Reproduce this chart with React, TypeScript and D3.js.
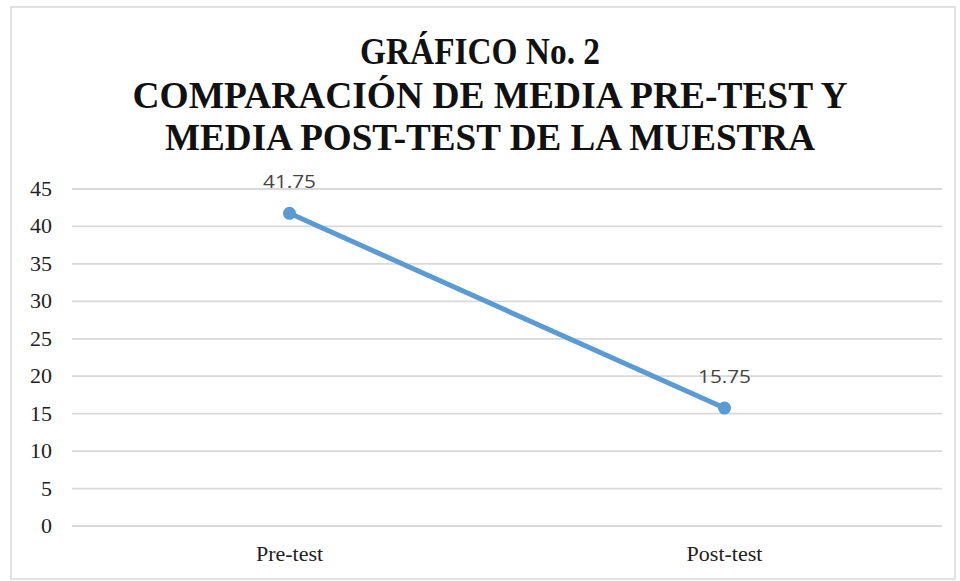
import React from "react";
import * as d3 from "d3";

const categories = ["Pre-test", "Post-test"];
const values = [41.75, 15.75];
const valueLabels = ["41.75", "15.75"];
const yTicks = [0, 5, 10, 15, 20, 25, 30, 35, 40, 45];
const titleLines = ["GRÁFICO No. 2", "COMPARACIÓN DE MEDIA PRE-TEST Y", "MEDIA POST-TEST DE LA MUESTRA"];

const W = 960;
const H = 581;
const plot = { left: 72, right: 942, top: 189, bottom: 526 };

export default function App() {
  const x = d3.scaleBand<string>().domain(categories).range([plot.left, plot.right]);
  const y = d3.scaleLinear().domain([0, 45]).range([plot.bottom, plot.top]);
  const pts = categories.map((c, i) => [x(c)! + x.bandwidth() / 2, y(values[i])] as [number, number]);
  const line = d3.line()(pts) || "";
  const titleY = [64, 108, 150];
  const titleX = [480, 490, 490];
  const titleW = [240, 715, 650];
  return (
    <svg width={W} height={H} style={{ position: "absolute", left: 0, top: 0, background: "#fff" }}>
      <rect x={0} y={0} width={W} height={H} fill="#fff" />
      <rect x={11} y={7} width={944} height={572} fill="#fff" stroke="#d9d9d9" strokeWidth={1.5} />
      {titleLines.map((t, i) => (
        <text key={i} x={titleX[i]} y={titleY[i]} textAnchor="middle" fontFamily="Liberation Serif, Times New Roman, serif"
          fontWeight="bold" fontSize={38} fill="#111" textLength={titleW[i]} lengthAdjust="spacingAndGlyphs">{t}</text>
      ))}
      {yTicks.map((t) => (
        <g key={t}>
          <line x1={plot.left} x2={plot.right} y1={y(t)} y2={y(t)} stroke="#d9d9d9" strokeWidth={1.8} />
          <text x={52} y={y(t) + 7} textAnchor="end" fontFamily="Liberation Serif, Times New Roman, serif" fontSize={22} fill="#222">{t}</text>
        </g>
      ))}
      {categories.map((c) => (
        <text key={c} x={x(c)! + x.bandwidth() / 2} y={561} textAnchor="middle" fontFamily="Liberation Serif, Times New Roman, serif" fontSize={22} fill="#222">{c}</text>
      ))}
      <path d={line} fill="none" stroke="#5B9BD5" strokeWidth={5} strokeLinecap="round" />
      {pts.map((p, i) => (
        <g key={i}>
          <circle cx={p[0]} cy={p[1]} r={6.5} fill="#5B9BD5" />
          <text x={p[0]} y={p[1] - 25} textAnchor="middle" fontFamily="Open Sans, Liberation Sans, sans-serif" fontSize={19} fill="#444" textLength={53} lengthAdjust="spacingAndGlyphs">{valueLabels[i]}</text>
        </g>
      ))}
    </svg>
  );
}
